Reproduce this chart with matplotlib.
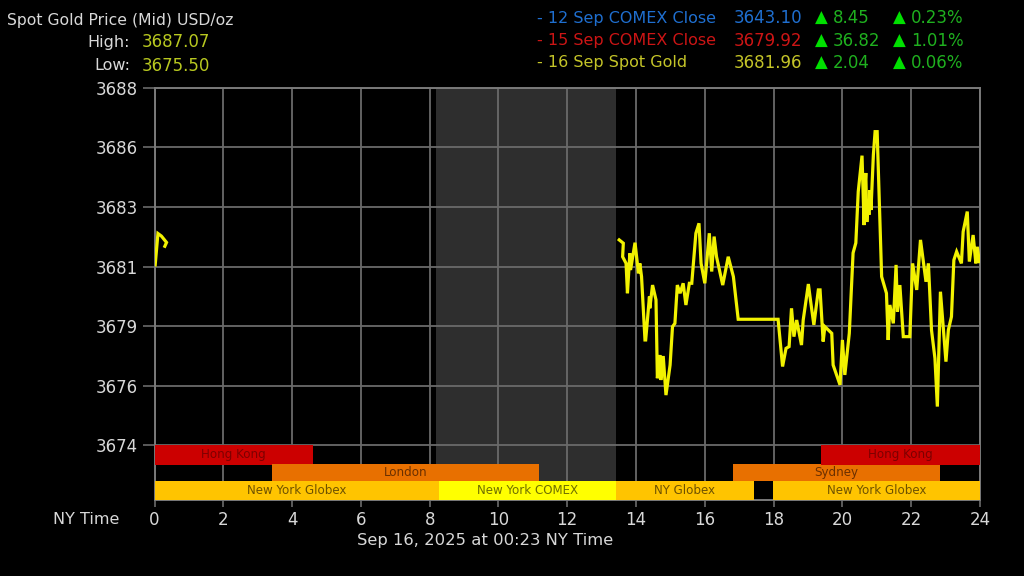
import matplotlib
matplotlib.use("Agg")
import matplotlib.pyplot as plt

W, H = 1024, 576

early_hours = [0.02, 0.10, 0.20, 0.35, 0.30]
early_prices = [3681.07, 3682.30, 3682.20, 3681.95, 3681.80]

hours = [13.51,13.63,13.61,13.71,13.75,13.82,13.84,13.97,14.07,14.11,14.16,14.26,14.28,14.39,14.40,14.48,14.58,14.62,14.70,14.72,14.79,14.87,14.99,15.06,15.13,15.20,15.28,15.37,15.45,15.55,15.62,15.74,15.83,15.89,16.00,16.13,16.20,16.27,16.34,16.52,16.68,16.83,16.97,18.13,18.26,18.36,18.45,
         18.52,18.59,18.67,18.81,18.86,19.01,19.07,19.17,19.30,19.35,19.44,19.49,19.69,19.73,19.93,20.00,20.07,20.20,20.31,20.39,20.46,20.57,20.63,20.65,20.68,20.71,20.74,20.77,20.80,20.83,20.90,20.95,21.01,21.14,21.28,21.33,21.38,21.48,21.56,21.60,21.67,21.77,21.96,22.04,22.16,22.27,22.43,22.50,22.59,22.69,22.76,22.85,23.01,23.08,23.17,23.24,23.32,23.46,23.51,23.63,23.69,23.80,23.88,23.92,23.98]
prices = [3682.05,3681.92,3681.39,3681.13,3679.96,3681.52,3680.87,3681.94,3680.74,3681.13,3680.61,3678.13,3678.13,3679.83,3679.37,3680.28,3679.70,3676.63,3677.54,3676.56,3677.50,3675.97,3677.15,3678.65,3678.78,3680.28,3679.96,3680.35,3679.50,3680.35,3680.35,3682.31,3682.70,3681.13,3680.35,3682.31,3680.81,3682.18,3681.39,3680.28,3681.39,3680.61,3678.94,3678.94,3677.09,3677.80,3677.87,
          3679.37,3678.26,3678.91,3677.93,3678.91,3680.32,3679.70,3678.72,3680.09,3680.09,3678.07,3678.65,3678.39,3677.15,3676.37,3678.13,3676.76,3678.39,3681.54,3681.93,3683.94,3685.35,3682.63,3684.00,3684.67,3682.75,3683.61,3683.03,3684.00,3683.22,3685.38,3686.29,3686.29,3680.61,3679.96,3678.13,3679.50,3678.78,3681.07,3679.24,3680.28,3678.26,3678.26,3681.13,3680.09,3682.05,3680.41,3681.13,3678.52,3677.41,3675.52,3680.02,3677.28,3678.52,3679.04,3681.26,3681.59,3681.13,3682.37,3683.16,3681.20,3682.24,3681.13,3681.78,3681.20]

y_ticks = [3688, 3685.67, 3683.33, 3681, 3678.67, 3676.33, 3674]
y_labels = ["3688", "3686", "3683", "3681", "3679", "3676", "3674"]
x_ticks = list(range(0, 25, 2))

sess_names = ["Hong Kong", "London", "New York Globex", "New York COMEX", "NY Globex", "New York Globex", "Sydney", "Hong Kong"]
sess_start = [0, 3.41, 0, 8.27, 13.41, 17.98, 16.81, 19.38]
sess_end = [4.6, 11.18, 8.27, 13.41, 17.43, 24, 22.85, 24]
sess_row_top = [3674, 3673.27, 3672.6, 3672.6, 3672.6, 3672.6, 3673.27, 3674]
sess_row_bot = [3673.25, 3672.6, 3671.88, 3671.88, 3671.88, 3671.88, 3672.6, 3673.25]
sess_colors = ["#cc0000", "#e87000", "#ffc400", "#ffff00", "#ffc400", "#ffc400", "#e87000", "#cc0000"]
sess_text = ["#7d0000", "#6b3000", "#6e5200", "#6e6e00", "#6e5200", "#6e5200", "#6b3000", "#7d0000"]

legend_names = ["- 12 Sep COMEX Close", "- 15 Sep COMEX Close", "- 16 Sep Spot Gold"]
legend_vals = ["3643.10", "3679.92", "3681.96"]
legend_chg = ["8.45", "36.82", "2.04"]
legend_pct = ["0.23%", "1.01%", "0.06%"]
legend_colors = ["#1f6fd0", "#cc1515", "#c4c428"]

fig = plt.figure(figsize=(W / 100, H / 100), dpi=100, facecolor="black")
ax = fig.add_axes([154.5 / W, 1 - 499.5 / H, (980 - 154.5) / W, (499.5 - 88) / H], facecolor="black")
ax.set_xlim(0, 24)
ax.set_ylim(3671.88, 3688)

ax.axvspan(8.18, 13.41, color="#2e2e2e", lw=0, zorder=0)
ax.set_xticks(x_ticks)
ax.set_yticks(y_ticks)
ax.set_yticklabels(y_labels)
ax.grid(True, color="#6a6a6a", lw=1.3, zorder=1)
ax.set_axisbelow(True)
for s in ax.spines.values():
    s.set_color("#7a7a7a")
    s.set_linewidth(1.4)
ax.tick_params(axis="both", colors="#6a6a6a", labelcolor="#d8d8d8", labelsize=12, width=1.2)
ax.tick_params(axis="y", length=9, pad=3)
ax.tick_params(axis="x", length=5, pad=3)

for a, b, t, bt, c in zip(sess_start, sess_end, sess_row_top, sess_row_bot, sess_colors):
    ax.fill_between([a, b], bt, t, color=c, lw=0, zorder=3)
for n, a, b, t, bt, c in zip(sess_names, sess_start, sess_end, sess_row_top, sess_row_bot, sess_text):
    ax.text((a + b) / 2, (t + bt) / 2, n, color=c, fontsize=8.6, ha="center", va="center", zorder=4)

ax.plot(early_hours, early_prices, color="#f2f200", lw=2.3, zorder=5, solid_joinstyle="miter")
ax.plot(hours, prices, color="#f2f200", lw=2.3, zorder=5, solid_joinstyle="miter")


def t(px, py, s, color="#d8d8d8", size=11.5, ha="left"):
    fig.text(px / W, 1 - py / H, s, color=color, fontsize=size, ha=ha, va="center")


t(7, 20, "Spot Gold Price (Mid) USD/oz", size=11.25)
t(130, 42, "High:", ha="right")
t(130, 66, "Low:", ha="right")
t(142, 42, "3687.07", color="#b8c820", size=12)
t(142, 66, "3675.50", color="#b8c820", size=12)
t(119, 519, "NY Time", ha="right")
t(485, 541, "Sep 16, 2025 at 00:23 NY Time", ha="center", size=11.8)

for i, py in enumerate([18, 41, 63]):
    c = legend_colors[i]
    t(537, py, legend_names[i], color=c)
    t(802, py, legend_vals[i], color=c, ha="right", size=12)
    t(815, py, "▲", color="#00e000", size=12)
    t(833, py, legend_chg[i], color="#1fb01f", size=12)
    t(893, py, "▲", color="#00e000", size=12)
    t(911, py, legend_pct[i], color="#1fb01f", size=12)

fig.savefig("out.png", dpi=100, facecolor="black")
